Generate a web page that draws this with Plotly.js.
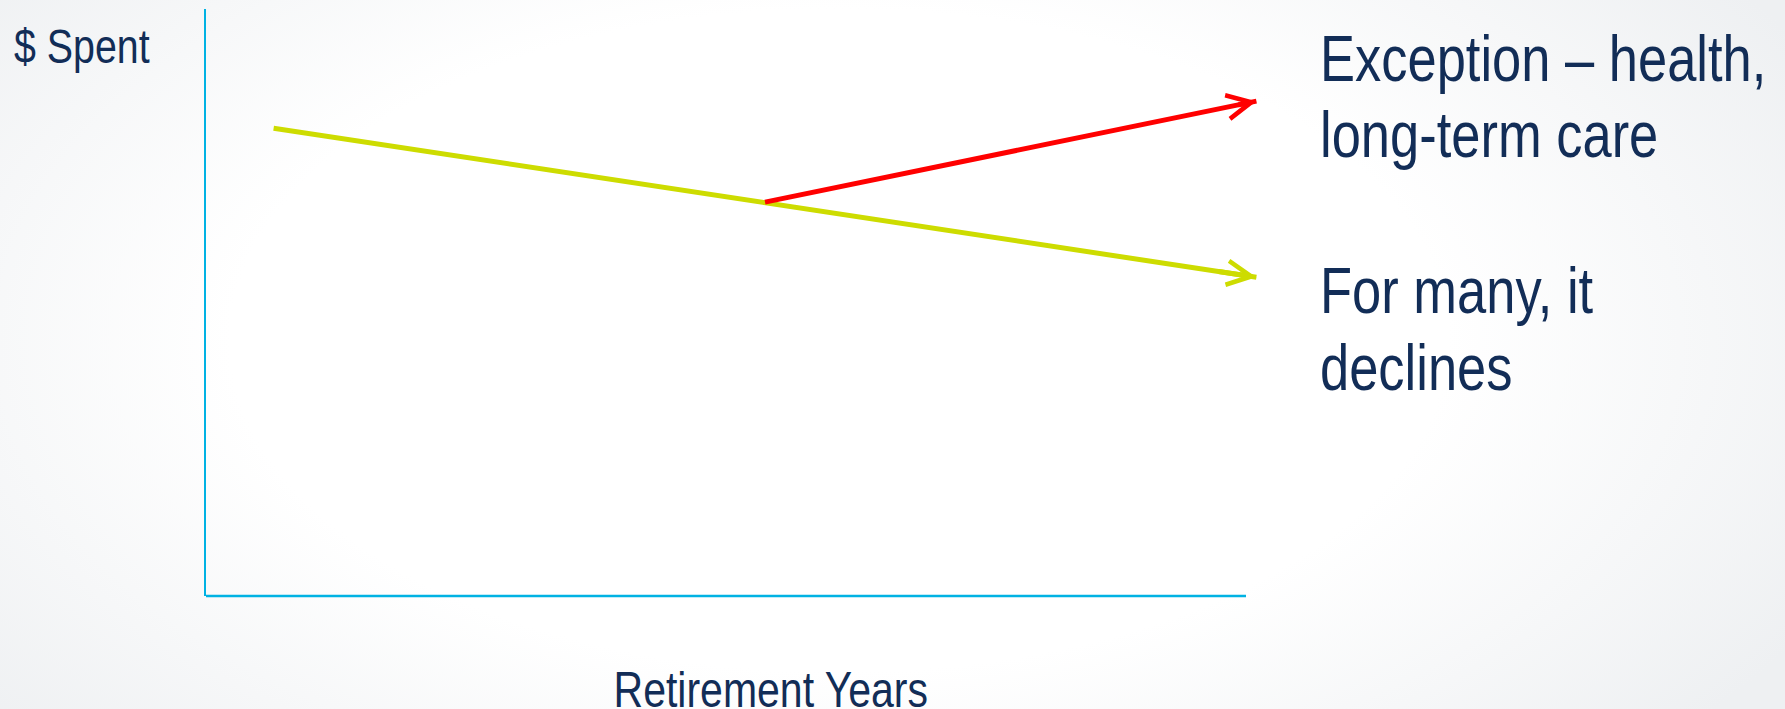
<!DOCTYPE html>
<html>
<head>
<meta charset="utf-8">
<script src="https://cdn.plot.ly/plotly-3.0.1.min.js"></script>
<style>
  html, body { margin: 0; padding: 0; }
  body {
    width: 1785px; height: 709px; overflow: hidden;
    background: radial-gradient(ellipse 62% 85% at 47% 48%, #ffffff 55%, #eef0f2 100%);
  }
  #chart { width: 1785px; height: 709px; }
</style>
</head>
<body>
<div id="chart"></div>
<script>
// ---- data (abstract units) ----
const declineYears = [6.5, 101];
const declineSpend = [79.7, 54.3];
const exceptionYears = [53.75, 101];
const exceptionSpend = [67.1, 84.3];
const xAxisEnd = 100;

const yLabel = "$ Spent";
const xLabel = "Retirement Years";
const exceptionLines = ["Exception \u2013 health,", "long-term care"];
const declineLines = ["For many, it", "declines"];

// ---- styles ----
const FONT = "Liberation Sans, Arial, sans-serif";
const NARROW = 0.82;   // horizontal squeeze to mimic a narrow face
const NAVY = "#122d57";
const AXIS = "#00b2e3";
const GREEN = "#cddc00";
const RED = "#ff0000";

const W = 1785, H = 709;
const L = 206, T = 9, R = 1270, B = 596;
const pw = R - L, ph = B - T;
const px = v => (v - L) / pw;
const py = v => (B - v) / ph;

function textAnno(text, xpx, cyPx, size, anchor) {
  return {
    text: text, xref: "paper", yref: "paper", x: px(xpx), y: py(cyPx),
    xanchor: anchor || "left", yanchor: "middle", showarrow: false,
    font: { family: FONT, size: size, color: NAVY }
  };
}
function arrowHead(xs, ys, color) {
  const n = xs.length - 1;
  const t = 0.96;
  return {
    text: "", showarrow: true, xref: "x", yref: "y", axref: "x", ayref: "y",
    x: xs[n], y: ys[n],
    ax: xs[n - 1] + (xs[n] - xs[n - 1]) * t, ay: ys[n - 1] + (ys[n] - ys[n - 1]) * t,
    arrowhead: 5, arrowsize: 0.95, arrowwidth: 5, arrowcolor: color, standoff: 0
  };
}

const traces = [
  { x: declineYears, y: declineSpend, type: "scatter", mode: "lines",
    line: { color: GREEN, width: 5 }, hoverinfo: "skip", showlegend: false },
  { x: exceptionYears, y: exceptionSpend, type: "scatter", mode: "lines",
    line: { color: RED, width: 5 }, hoverinfo: "skip", showlegend: false }
];

const anchors = ["left", "left", "left", "left", "left", "center"];

const layout = {
  width: W, height: H,
  margin: { l: L, t: T, r: W - R, b: H - B, pad: 0 },
  paper_bgcolor: "rgba(0,0,0,0)", plot_bgcolor: "rgba(0,0,0,0)",
  showlegend: false, hovermode: false,
  xaxis: { range: [0, pw / 10.4], showgrid: false, zeroline: false, showticklabels: false,
           ticks: "", showline: false, fixedrange: true },
  yaxis: { range: [0, 100], showgrid: false, zeroline: false, showticklabels: false,
           ticks: "", showline: true, linecolor: AXIS, linewidth: 2, fixedrange: true },
  shapes: [
    { type: "line", xref: "x", yref: "paper", x0: 0, x1: xAxisEnd, y0: 0, y1: 0,
      line: { color: AXIS, width: 2.5 } }
  ],
  annotations: [
    textAnno(yLabel, 12, 46, 48),
    textAnno(exceptionLines[0], 1318, 59, 64),
    textAnno(exceptionLines[1], 1318, 135, 64),
    textAnno(declineLines[0], 1318, 291, 64),
    textAnno(declineLines[1], 1318, 368, 64),
    textAnno(xLabel, 771, 689.5, 50, "center"),
    arrowHead(declineYears, declineSpend, GREEN),
    arrowHead(exceptionYears, exceptionSpend, RED)
  ]
};

Plotly.newPlot("chart", traces, layout, { displayModeBar: false, staticPlot: true })
  .then(gd => {
    // squeeze annotation text horizontally around its anchor to imitate a narrow typeface
    gd.querySelectorAll("g.annotation").forEach(g => {
      const i = +g.getAttribute("data-index");
      const t = g.querySelector("text.annotation-text");
      if (!t || i >= anchors.length) return;
      t.style.transformBox = "fill-box";
      t.style.transformOrigin = anchors[i] === "center" ? "center center" : "left center";
      t.style.transform = "scaleX(" + NARROW + ")";
    });
  });
</script>
</body>
</html>
